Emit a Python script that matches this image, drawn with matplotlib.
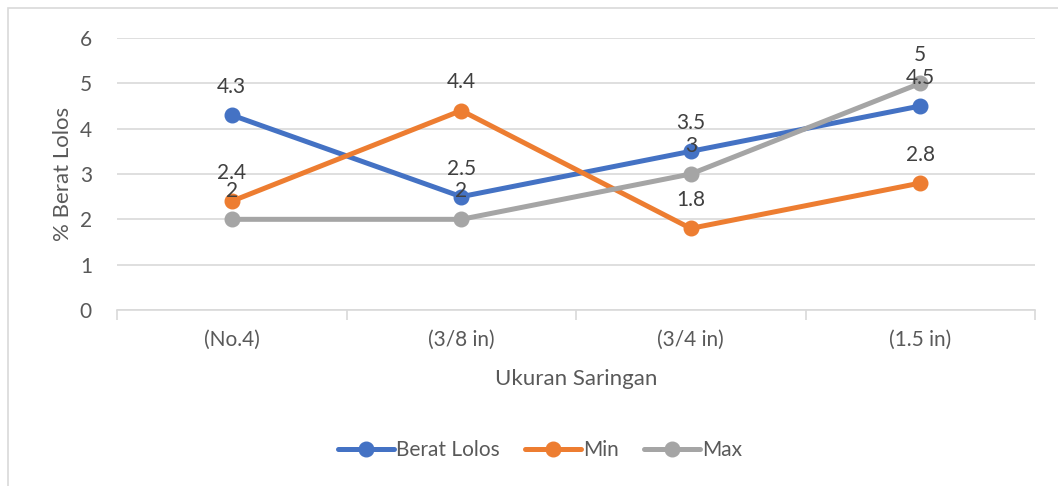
import matplotlib
matplotlib.use("Agg")
import matplotlib.pyplot as plt
from matplotlib.patches import Rectangle

# data
categories = ["(No.4)", "(3/8 in)", "(3/4 in)", "(1.5 in)"]
berat_lolos = [4.3, 2.5, 3.5, 4.5]
min_vals = [2.4, 4.4, 1.8, 2.8]
max_vals = [2, 2, 3, 5]

series_names = ["Berat Lolos", "Min", "Max"]
series_colors = ["#4472C4", "#ED7D31", "#A5A5A5"]

plt.rcParams['font.family'] = ['Lato', 'DejaVu Sans']
text_color = "#595959"

fig = plt.figure(figsize=(10.58, 4.86), dpi=100)
ax = fig.add_axes([117 / 1058, 1 - 310 / 486, (1035 - 117) / 1058, (310 - 38) / 486])

# outer chart border
fig.patches.append(Rectangle((8 / 1058, -0.1), 1.2, 1 - 8 / 486 + 0.1, transform=fig.transFigure,
                             fill=False, edgecolor="#D9D9D9", linewidth=1.2))

x = list(range(len(categories)))
for vals, name, col in zip([berat_lolos, min_vals, max_vals], series_names, series_colors):
    ax.plot(x, vals, color=col, linewidth=3.6, marker="o", markersize=10.5, label=name,
            solid_capstyle="round", zorder=3)
    for xi, v in zip(x, vals):
        ax.annotate("%g" % v, (xi, v), xytext=(0, 13), textcoords="offset points",
                    ha="center", va="bottom", fontsize=15, color="#404040", zorder=4)

ax.set_xlim(-0.5, len(categories) - 0.5)
ax.set_ylim(0, 6)
ax.set_yticks(range(0, 7))
ax.set_xticks(x)
ax.set_xticklabels(categories)
ax.grid(axis="y", color="#D9D9D9", linewidth=1.2)
ax.set_axisbelow(True)
for s in ["top", "right", "left"]:
    ax.spines[s].set_visible(False)
ax.spines["bottom"].set_color("#D9D9D9")
ax.spines["bottom"].set_linewidth(1.2)

# category boundary ticks
ax.set_xticks([i - 0.5 for i in range(len(categories) + 1)], minor=True)
ax.tick_params(axis="x", which="minor", length=7, color="#D9D9D9", width=1.2)
ax.tick_params(axis="x", which="major", length=0, pad=14, labelsize=15, labelcolor=text_color)
ax.tick_params(axis="y", length=0, pad=18, labelsize=15, labelcolor=text_color)

ax.set_xlabel("Ukuran Saringan", fontsize=16, color=text_color, labelpad=14)
ax.set_ylabel("% Berat Lolos", fontsize=16, color=text_color, labelpad=5)

fig.legend(loc="center", bbox_to_anchor=(540 / 1058, 1 - 450 / 486), ncol=3, frameon=False,
           fontsize=15, labelcolor=text_color, handlelength=2.7, handletextpad=0.1,
           columnspacing=1.2)

fig.savefig("out.png", dpi=100)
